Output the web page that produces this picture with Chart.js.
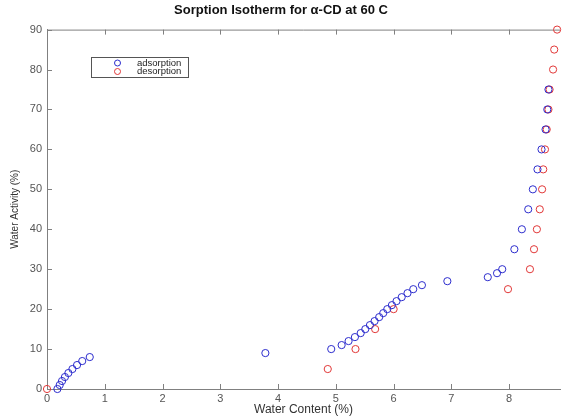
<!DOCTYPE html>
<html>
<head>
<meta charset="utf-8">
<script src="https://cdn.jsdelivr.net/npm/chart.js@4/dist/chart.umd.min.js"></script>
<style>
  html, body { margin: 0; padding: 0; background: #fff; }
  #wrap { width: 565px; height: 417px; }
</style>
</head>
<body>
<div id="wrap"><canvas id="sorptionChart"></canvas></div>
<script>
// ===== data =====
const adsX = [0.18, 0.22, 0.26, 0.31, 0.37, 0.44, 0.52, 0.61, 0.74, 3.78,
    4.92, 5.10, 5.22, 5.33, 5.43, 5.51, 5.59, 5.67, 5.75, 5.82, 5.89, 5.97,
    6.05, 6.14, 6.24, 6.34, 6.49, 6.93, 7.63, 7.79, 7.88,
    8.09, 8.22, 8.33, 8.41, 8.49, 8.56, 8.63, 8.66, 8.68];
const adsY = [0, 1, 2, 3, 4, 5, 6, 7, 8, 9,
    10, 11, 12, 13, 14, 15, 16, 17, 18, 19, 20, 21,
    22, 23, 24, 25, 26, 27, 28, 29, 30,
    35, 40, 45, 50, 55, 60, 65, 70, 75];

const desX = [0, 4.86, 5.34, 5.68, 6.00, 7.98, 8.36, 8.43, 8.48, 8.53,
    8.57, 8.59, 8.62, 8.65, 8.68, 8.70, 8.76, 8.78, 8.83];
const desY = [0, 5, 10, 15, 20, 25, 30, 35, 40, 45,
    50, 55, 60, 65, 70, 75, 80, 85, 90];

const xTicks = [0, 1, 2, 3, 4, 5, 6, 7, 8];
const yTicks = [0, 10, 20, 30, 40, 50, 60, 70, 80, 90];

const BLUE = 'rgb(45,45,205)';
const RED = 'rgb(225,55,55)';
const AXIS = '#808080';
const FONT = "'Liberation Sans', Arial, sans-serif";

const toPoints = (xs, ys) => xs.map((x, i) => ({ x: x, y: ys[i] }));

// MATLAB style ticks pointing inward + top box line
const insideTicks = {
    id: 'insideTicks',
    beforeDatasetsDraw(chart) {
        const { ctx, chartArea: { left, right, top, bottom }, scales: { x, y } } = chart;
        ctx.save();
        ctx.strokeStyle = AXIS;
        ctx.lineWidth = 1;
        ctx.beginPath();
        ctx.moveTo(left, top + 0.5);
        ctx.lineTo(right, top + 0.5);
        xTicks.forEach(v => {
            const px = Math.round(x.getPixelForValue(v)) + 0.5;
            ctx.moveTo(px, bottom);
            ctx.lineTo(px, bottom - 5);
            ctx.moveTo(px, top);
            ctx.lineTo(px, top + 5);
        });
        yTicks.forEach(v => {
            const py = Math.round(y.getPixelForValue(v)) + 0.5;
            ctx.moveTo(left, py);
            ctx.lineTo(left + 5, py);
        });
        ctx.stroke();
        ctx.restore();
    }
};

// small boxed legend inside the axes
const boxLegend = {
    id: 'boxLegend',
    afterDraw(chart) {
        const { ctx } = chart;
        ctx.save();
        ctx.fillStyle = '#fff';
        ctx.fillRect(91, 57, 97, 20);
        ctx.strokeStyle = '#555';
        ctx.lineWidth = 1;
        ctx.strokeRect(91.5, 57.5, 97, 20);
        ctx.font = '9.5px ' + FONT;
        ctx.textBaseline = 'middle';
        chart.data.datasets.forEach((ds, i) => {
            const cy = 63 + i * 8.5;
            ctx.beginPath();
            ctx.arc(117.5, cy, 3, 0, Math.PI * 2);
            ctx.strokeStyle = ds.borderColor;
            ctx.stroke();
            ctx.fillStyle = '#222';
            ctx.fillText(ds.label, 137, cy);
        });
        ctx.restore();
    }
};

new Chart(document.getElementById('sorptionChart'), {
    type: 'scatter',
    data: {
        datasets: [{
            label: 'adsorption',
            data: toPoints(adsX, adsY),
            borderColor: BLUE,
            backgroundColor: 'rgba(0,0,0,0)',
            pointRadius: 3.6,
            borderWidth: 1,
            clip: false
        }, {
            label: 'desorption',
            data: toPoints(desX, desY),
            borderColor: RED,
            backgroundColor: 'rgba(0,0,0,0)',
            pointRadius: 3.6,
            borderWidth: 1,
            clip: false
        }]
    },
    options: {
        responsive: true,
        maintainAspectRatio: false,
        animation: false,
        layout: { padding: { right: 3 } },
        scales: {
            x: {
                min: 0,
                max: 8.88,
                afterFit: s => { s.height = 28; },
                grid: { display: false, drawTicks: false, tickLength: 0 },
                border: { color: AXIS },
                ticks: {
                    stepSize: 1,
                    includeBounds: false,
                    padding: 3,
                    color: '#555',
                    font: { family: FONT, size: 11 }
                },
                title: {
                    display: true,
                    text: 'Water Content (%)',
                    color: '#333',
                    padding: 0,
                    font: { family: FONT, size: 12 }
                }
            },
            y: {
                min: 0,
                max: 90,
                afterFit: s => { s.width = 47; },
                grid: { display: false, drawTicks: false, tickLength: 0 },
                border: { color: AXIS },
                ticks: {
                    stepSize: 10,
                    padding: 5,
                    color: '#555',
                    font: { family: FONT, size: 11 }
                },
                title: {
                    display: true,
                    text: 'Water Activity (%)',
                    color: '#333',
                    padding: { top: 9, bottom: 0 },
                    font: { family: FONT, size: 10 }
                }
            }
        },
        plugins: {
            legend: { display: false },
            tooltip: { enabled: false },
            title: {
                display: true,
                text: 'Sorption Isotherm for α-CD at 60 C',
                color: '#111',
                padding: { top: 3, bottom: 11 },
                font: { family: FONT, size: 13, weight: 'bold' }
            }
        }
    },
    plugins: [insideTicks, boxLegend]
});
</script>
</body>
</html>
